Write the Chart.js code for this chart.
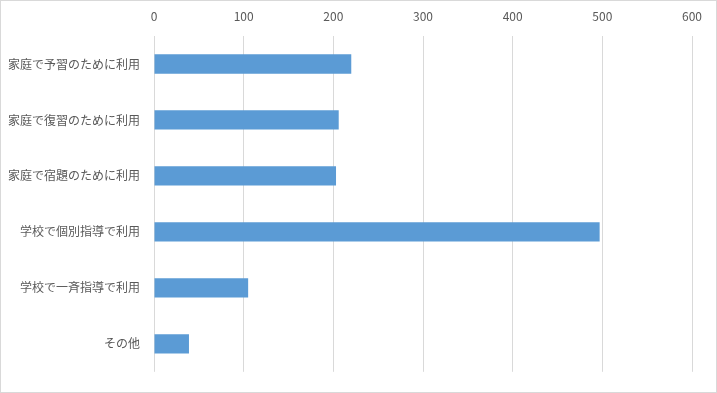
<!DOCTYPE html>
<html lang="ja">
<head>
<meta charset="utf-8">
<title>利用目的</title>
<script src="https://cdn.jsdelivr.net/npm/chart.js@4.4.0/dist/chart.umd.min.js"></script>
<style>
    html, body { margin: 0; padding: 0; background: #fff; }
    #wrap { position: relative; width: 717px; height: 393px; }
</style>
</head>
<body>
<div id="wrap"><canvas id="usageChart"></canvas></div>
<script>
    // Data
    const categories = [
        '家庭で予習のために利用',
        '家庭で復習のために利用',
        '家庭で宿題のために利用',
        '学校で個別指導で利用',
        '学校で一斉指導で利用',
        'その他'
    ];
    const counts = [220, 206, 203, 497, 105, 39];
    const xTicks = [0, 100, 200, 300, 400, 500, 600];

    const labelFont = { family: "'Noto Sans CJK JP', 'Noto Sans', sans-serif", size: 12 };

    // Outer frame like the spreadsheet chart border
    const frame = {
        id: 'frame',
        afterDraw(chart) {
            const c = chart.ctx;
            c.save();
            c.strokeStyle = '#d9d9d9';
            c.lineWidth = 1;
            c.strokeRect(0.5, 0.5, chart.width - 1, chart.height - 1);
            c.restore();
        }
    };

    new Chart(document.getElementById('usageChart'), {
        type: 'bar',
        data: {
            labels: categories,
            datasets: [{
                data: counts,
                backgroundColor: '#5b9bd5',
                borderWidth: 0,
                categoryPercentage: 1,
                barPercentage: 0.345
            }]
        },
        options: {
            indexAxis: 'y',
            responsive: true,
            maintainAspectRatio: false,
            animation: false,
            layout: { padding: { top: 0, right: 25, bottom: 14, left: 0 } },
            plugins: {
                legend: { display: false },
                tooltip: { enabled: false }
            },
            scales: {
                x: {
                    position: 'top',
                    min: xTicks[0],
                    max: xTicks[xTicks.length - 1],
                    afterBuildTicks(scale) {
                        scale.ticks = xTicks.map(v => ({ value: v }));
                    },
                    afterFit(scale) { scale.height = 36; },
                    grid: { color: '#d9d9d9', drawTicks: false },
                    border: { display: false },
                    ticks: { color: '#595959', font: labelFont, padding: 12 }
                },
                y: {
                    afterFit(scale) { scale.width = 154; },
                    grid: { display: false, drawTicks: false },
                    border: { display: false },
                    ticks: { color: '#595959', font: labelFont, padding: 14 }
                }
            }
        },
        plugins: [frame]
    });
</script>
</body>
</html>
